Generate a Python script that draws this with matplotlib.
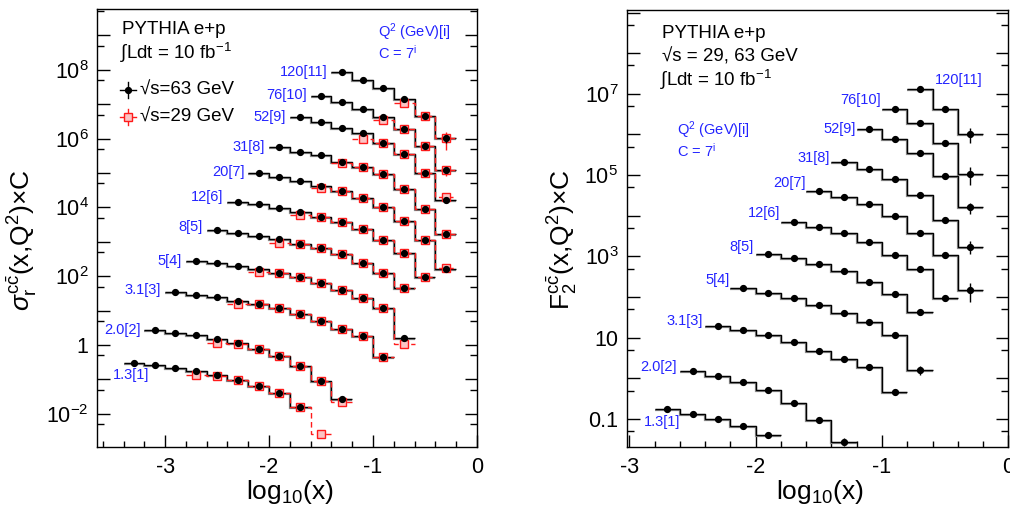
import numpy as np
import matplotlib
matplotlib.use('Agg')
import matplotlib.pyplot as plt
from matplotlib import transforms
from matplotlib.ticker import FixedLocator, FixedFormatter, NullFormatter

plt.rcParams['font.family'] = ['Liberation Sans', 'DejaVu Sans']
plt.rcParams['mathtext.fontset'] = 'custom'
plt.rcParams['mathtext.rm'] = 'Liberation Sans'
plt.rcParams['mathtext.it'] = 'Liberation Sans:italic'
plt.rcParams['mathtext.bf'] = 'Liberation Sans:bold'
plt.rcParams['axes.unicode_minus'] = False

# ---------------- data ----------------
q2_labels = ['1.3[1]', '2.0[2]', '3.1[3]', '5[4]', '8[5]', '12[6]',
             '20[7]', '31[8]', '52[9]', '76[10]', '120[11]']
bin_width = 0.2  # log10(x) bin width

# left panel: sigma_r^{cc} x C, sqrt(s)=63 GeV (first bin centre in log10 x, values)
first63 = [-3.3, -3.1, -2.9, -2.7, -2.5, -2.3, -2.1, -1.9, -1.7, -1.5, -1.3]
sig63_1 = [0.306, 0.262, 0.219, 0.175, 0.132, 0.0962, 0.0643, 0.0403, 0.0155]
sig63_2 = [2.67, 2.28, 1.91, 1.49, 1.12, 0.783, 0.490, 0.251, 0.0918, 0.0263]
sig63_3 = [34.0, 28.4, 24.3, 19.5, 15.2, 11.6, 7.96, 4.93, 2.92, 1.83, 0.448]
sig63_4 = [282, 242, 202, 165, 124, 94.8, 63.4, 41.0, 24.0, 11.9, 1.63]
sig63_5 = [2203, 1766, 1445, 1183, 863, 661, 442, 250, 124, 45.4]
sig63_6 = [14660, 12300, 9419, 7499, 5370, 3767, 2280, 1127, 463, 96.6]
sig63_7 = [97950, 74990, 58480, 41020, 29380, 18410, 10280, 3945, 1107, 161.8]
sig63_8 = [5.585e5, 4.159e5, 3.334e5, 2.128e5, 1.466e5, 9.354e4, 3.357e4, 8810, 1687]
sig63_9 = [4.159e6, 3.041e6, 2.075e6, 1.426e6, 7.603e5, 3.50e5, 9.795e4, 1.641e4]
sig63_10 = [1.73e7, 1.183e7, 7.5e6, 4.159e6, 1.862e6, 6.223e5, 1.222e5]
sig63_11 = [8.63e7, 5.152e7, 2.897e7, 1.387e7, 4.446e6, 1.021e6]
err63_last = [0.02, 0.05, 0.05, 0.15, 0.05, 0.05, 0.15, 0.15, 0.2, 0.2, 0.25]

# left panel: sqrt(s)=29 GeV
first29 = [-2.7, -2.5, -2.3, -2.1, -1.9, -1.7, -1.5, -1.3, -1.1, -0.9, -0.7]
sig29_1 = [0.132, 0.126, 0.0962, 0.0643, 0.0403, 0.0155, 0.00259]
sig29_2 = [1.17, 1.05, 0.77, 0.49, 0.251, 0.0918, 0.0225]
sig29_3 = [15.6, 15.2, 11.6, 7.96, 4.93, 2.92, 1.83, 0.448]
sig29_4 = [130, 124, 94.8, 63.4, 41.0, 24.0, 11.9, 1.05]
sig29_5 = [942, 863, 661, 442, 250, 124, 45.4]
sig29_6 = [6012, 5370, 3767, 2280, 1127, 463, 96.6]
sig29_7 = [35890, 29380, 18410, 10280, 3945, 1107, 176.6]
sig29_8 = [1.914e5, 1.466e5, 9.354e4, 3.357e4, 8810, 1687]
sig29_9 = [9.93e5, 7.603e5, 3.50e5, 9.795e4, 2.046e4]
sig29_10 = [3.475e6, 1.862e6, 6.223e5, 1.222e5]
sig29_11 = [1.107e7, 4.446e6, 1.021e6]
err29_last = [0.05, 0.08, 0.05, 0.10, 0.05, 0.05, 0.15, 0.25, 0.3, 0.35, 0.55]

# right panel: F2^{cc} x C
firstF2 = [-2.7, -2.5, -2.3, -2.1, -1.9, -1.7, -1.5, -1.3, -1.1, -0.9, -0.7]
f2_1 = [0.176, 0.135, 0.100, 0.0661, 0.0411]
f2_2 = [1.517, 1.143, 0.828, 0.508, 0.252, 0.0944, 0.0277]
f2_3 = [19.7, 15.2, 11.9, 7.83, 4.79, 2.94, 1.94, 0.454]
f2_4 = [164, 128, 93.1, 63.7, 39.8, 23.9, 11.6, 1.60]
f2_5 = [1146, 897, 650, 438, 231, 119, 42.9]
f2_6 = [7145, 5200, 3698, 2223, 1081, 482, 96.4]
f2_7 = [41300, 28440, 19140, 10020, 3828, 1081, 149]
f2_8 = [2.138e5, 1.413e5, 7.889e4, 3.236e4, 7852, 1734]
f2_9 = [1.34e6, 7.603e5, 3.436e5, 9.66e4, 1.614e4]
f2_10 = [4.159e6, 1.879e6, 6.266e5, 1.064e5]
f2_11 = [1.291e7, 4.159e6, 1.026e6]
errF2_last = [0.05, 0.2, 0.05, 0.25, 0.05, 0.05, 0.5, 0.35, 0.3, 0.45, 0.4]

sig63 = [sig63_1, sig63_2, sig63_3, sig63_4, sig63_5, sig63_6, sig63_7, sig63_8, sig63_9, sig63_10, sig63_11]
sig29 = [sig29_1, sig29_2, sig29_3, sig29_4, sig29_5, sig29_6, sig29_7, sig29_8, sig29_9, sig29_10, sig29_11]
f2 = [f2_1, f2_2, f2_3, f2_4, f2_5, f2_6, f2_7, f2_8, f2_9, f2_10, f2_11]

left_ytick_labels = ['$10^{-2}$', '1', '$10^{2}$', '$10^{4}$', '$10^{6}$', '$10^{8}$']
right_ytick_labels = ['0.1', '10', '$10^{3}$', '$10^{5}$', '$10^{7}$']
xtick_labels = ['-3', '-2', '-1', '0']

# ---------------- figure ----------------
W, H = 1010, 511
fig = plt.figure(figsize=(W / 100, H / 100), dpi=100)
BLUE = '#2424ff'
RED = '#ff1a1a'


def P(px, py):
    return px / W, 1 - py / H


axL = fig.add_axes([97 / W, 1 - 447 / H, 380 / W, (447 - 9.3) / H])
axR = fig.add_axes([626.7 / W, 1 - 447 / H, (1008.3 - 626.7) / W, (447 - 9.7) / H])


def geom(first, vals, rel_last):
    vals = np.asarray(vals, float)
    n = len(vals)
    c = first + bin_width * np.arange(n)
    e = np.append(c - bin_width / 2, c[-1] + bin_width / 2)
    rel = np.full(n, 0.02)
    rel[-1] = rel_last
    return c, e, vals, rel


def draw_black(ax, first, vals, rel_last):
    c, e, v, rel = geom(first, vals, rel_last)
    down = transforms.offset_copy(ax.transData, fig=fig, x=0, y=-1.0, units='dots')
    ax.stairs(v, e, baseline=None, color='#8c8c8c', lw=1.6, transform=down, zorder=2)
    ax.stairs(v, e, baseline=None, color='black', lw=1.0, zorder=3)
    return c, v, rel


def draw_points(ax, c, v, rel):
    ax.errorbar(c, v, yerr=rel * v, fmt='o', color='black', ms=4.2,
                elinewidth=1.0, capsize=0, zorder=6)


def draw_red(ax, first, vals, rel_last):
    c, e, v, rel = geom(first, vals, rel_last)
    ax.stairs(v, e, baseline=None, color=RED, lw=1.0, linestyle=(0, (4, 2.5)), zorder=4)
    ax.errorbar(c, v, yerr=rel * v, fmt='s', color=RED, ms=6, mfc='#fbc4c4',
                mec=RED, mew=1.0, elinewidth=1.0, capsize=0, zorder=5)


LABEL_FS = 10.5

# ----- left panel -----
left_dy = [None, 0, 2, 0, 3, 5, 1.5, 0, 0, 1, 0]
for i in range(11):
    c, v, rel = draw_black(axL, first63[i], sig63[i], err63_last[i])
    draw_red(axL, first29[i], sig29[i], err29_last[i])
    draw_points(axL, c, v, rel)
    edge = first63[i] - bin_width / 2
    if i == 0:
        axL.annotate(q2_labels[i], (edge, v[0]), xytext=(-11, -12),
                     textcoords='offset pixels', ha='left', va='center',
                     color=BLUE, fontsize=LABEL_FS)
    else:
        axL.annotate(q2_labels[i], (edge, v[0]), xytext=(-4, left_dy[i]),
                     textcoords='offset pixels', ha='right', va='center',
                     color=BLUE, fontsize=LABEL_FS)

# ----- right panel -----
right_dx = [None, -3, -2, -1, -2, -1, 0, -1.5, -1, -1, None]
right_dy = [None, 4, 5, 8, 7, 9, 8, 4, 0, 9, None]
for i in range(11):
    c, v, rel = draw_black(axR, firstF2[i], f2[i], errF2_last[i])
    draw_points(axR, c, v, rel)
    edge = firstF2[i] - bin_width / 2
    if i == 0:
        axR.annotate(q2_labels[i], (edge, v[0]), xytext=(-11, -13),
                     textcoords='offset pixels', ha='left', va='center',
                     color=BLUE, fontsize=LABEL_FS)
    elif i == 10:
        axR.annotate(q2_labels[i], (edge, v[0]), xytext=(28, 9),
                     textcoords='offset pixels', ha='left', va='center',
                     color=BLUE, fontsize=LABEL_FS)
    else:
        axR.annotate(q2_labels[i], (edge, v[0]), xytext=(right_dx[i], right_dy[i]),
                     textcoords='offset pixels', ha='right', va='center',
                     color=BLUE, fontsize=LABEL_FS)

# ----- axes styling -----
for ax, (ylo, yhi), (xlo, xhi), ylab_exps, ylabs in [
        (axL, (10 ** -2.965, 10 ** 9.759), (-3.655, 0.0), [-2, 0, 2, 4, 6, 8], left_ytick_labels),
        (axR, (10 ** -1.689, 10 ** 9.069), (-3.021, 0.0), [-1, 1, 3, 5, 7], right_ytick_labels)]:
    ax.set_yscale('log')
    ax.set_ylim(ylo, yhi)
    ax.set_xlim(xlo, xhi)
    decades = np.arange(-4, 11)
    majors = [10.0 ** d for d in decades]
    labels = [ylabs[ylab_exps.index(d)] if d in ylab_exps else '' for d in decades]
    ax.yaxis.set_major_locator(FixedLocator(majors))
    ax.yaxis.set_major_formatter(FixedFormatter(labels))
    ax.yaxis.set_minor_locator(FixedLocator([5.0 * 10.0 ** d for d in decades]))
    ax.yaxis.set_minor_formatter(NullFormatter())
    ax.xaxis.set_major_locator(FixedLocator([-3, -2, -1, 0]))
    ax.xaxis.set_major_formatter(FixedFormatter(xtick_labels))
    ax.xaxis.set_minor_locator(FixedLocator(np.round(np.arange(-3.6, 0.01, 0.2), 2)))
    ax.tick_params(axis='both', which='both', direction='in', labelsize=15.5,
                   width=1.0, colors='black')
    ax.tick_params(axis='y', which='both', left=True, right=True)
    ax.tick_params(axis='x', which='both', top=False, bottom=True, pad=7)
    ax.tick_params(axis='y', which='major', length=9, pad=6)
    ax.tick_params(axis='y', which='minor', length=5)
    ax.tick_params(axis='x', which='major', length=9)
    ax.tick_params(axis='x', which='minor', length=4.5)
    for s in ax.spines.values():
        s.set_linewidth(1.0)

# axis titles
fig.text(*P(290, 492), r'log$_{10}$(x)', ha='center', va='center', fontsize=19)
fig.text(*P(820, 492), r'log$_{10}$(x)', ha='center', va='center', fontsize=19)
fig.text(*P(22, 240), r'$\sigma_{\mathrm{r}}^{\mathrm{c\bar{c}}}$(x,Q$^{2}$)$\times$C',
         rotation=90, ha='center', va='center', fontsize=19)
fig.text(*P(562, 240), r'F$_{2}^{\mathrm{c\bar{c}}}$(x,Q$^{2}$)$\times$C', rotation=90,
         ha='center', va='center', fontsize=19)

# left panel texts
fig.text(*P(122, 30), 'PYTHIA e+p', ha='left', va='center', fontsize=13.5)
fig.text(*P(120, 53), '\u222bLdt = 10 fb$^{-1}$', ha='left', va='center', fontsize=13.5)
fig.text(*P(140, 90), '\u221as=63 GeV', ha='left', va='center', fontsize=13.5)
fig.text(*P(140, 117), '\u221as=29 GeV', ha='left', va='center', fontsize=13.5)
fig.text(*P(378, 32), 'Q$^{2}$ (GeV)[i]', ha='left', va='center', fontsize=10.5, color=BLUE)
fig.text(*P(378, 53), 'C = 7$^{\\mathrm{i}}$', ha='left', va='center', fontsize=10.5, color=BLUE)

# legend markers (left panel)
lx, ly1, ly2 = 128, 90, 117
for (yy, col) in [(ly1, 'black'), (ly2, RED)]:
    x0, y0 = P(lx - 8, yy)
    x1, y1 = P(lx + 8, yy)
    fig.add_artist(plt.Line2D([x0, x1], [y0, y1], color=col, lw=1.0,
                              transform=fig.transFigure))
    x0, y0 = P(lx, yy - 8)
    x1, y1 = P(lx, yy + 8)
    fig.add_artist(plt.Line2D([x0, x1], [y0, y1], color=col, lw=1.0,
                              transform=fig.transFigure))
xm, ym = P(lx, ly1)
fig.add_artist(plt.Line2D([xm], [ym], marker='o', ms=4.2, color='black',
                          transform=fig.transFigure))
xm, ym = P(lx, ly2)
fig.add_artist(plt.Line2D([xm], [ym], marker='s', ms=6, mfc='#fbc4c4', mec=RED,
                          color=RED, transform=fig.transFigure))

# right panel texts
fig.text(*P(662, 33), 'PYTHIA e+p', ha='left', va='center', fontsize=13.5)
fig.text(*P(662, 57), '\u221as = 29, 63 GeV', ha='left', va='center', fontsize=13.5)
fig.text(*P(660, 80), '\u222bLdt = 10 fb$^{-1}$', ha='left', va='center', fontsize=13.5)
fig.text(*P(677, 130), 'Q$^{2}$ (GeV)[i]', ha='left', va='center', fontsize=10.5, color=BLUE)
fig.text(*P(677, 151), 'C = 7$^{\\mathrm{i}}$', ha='left', va='center', fontsize=10.5, color=BLUE)

fig.savefig('out.png', dpi=100)
